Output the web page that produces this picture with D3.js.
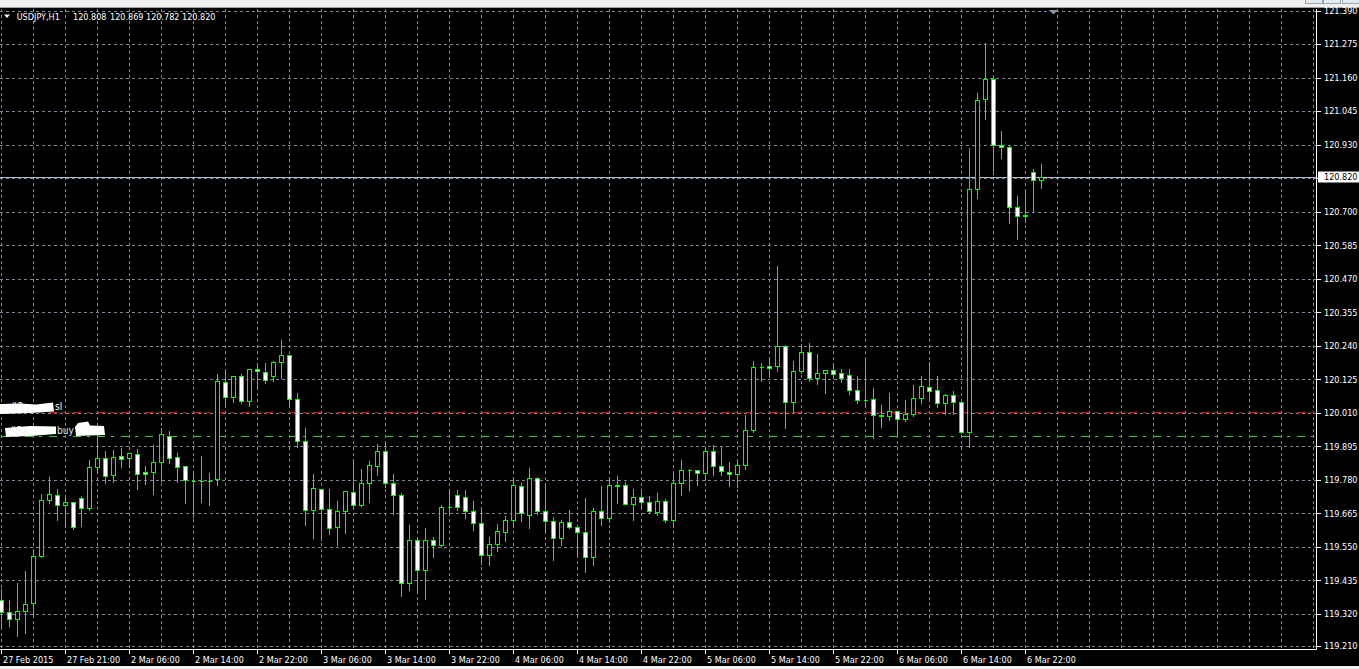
<!DOCTYPE html>
<html><head><meta charset="utf-8">
<script src="https://cdn.jsdelivr.net/npm/d3@7"></script>
<style>html,body{margin:0;padding:0;background:#000;overflow:hidden}svg{display:block}</style>
</head><body><svg id="c" width="1359" height="669"></svg>
<script>
// ---------- data ----------
const symbol = "USDJPY,H1";
const headerValues = ["120.808", "120.869", "120.782", "120.820"];
const timeLabels = ["27 Feb 2015","27 Feb 21:00","2 Mar 06:00","2 Mar 14:00","2 Mar 22:00","3 Mar 06:00","3 Mar 14:00","3 Mar 22:00","4 Mar 06:00","4 Mar 14:00","4 Mar 22:00","5 Mar 06:00","5 Mar 14:00","5 Mar 22:00","6 Mar 06:00","6 Mar 14:00","6 Mar 22:00"];
const timeLabelBars = [0,8,16,24,32,40,48,56,64,72,80,88,96,104,112,120,128];
const priceTicks = [121.390,121.275,121.160,121.045,120.930,120.815,120.700,120.585,120.470,120.355,120.240,120.125,120.010,119.895,119.780,119.665,119.550,119.435,119.320,119.210];
const priceTickLabels = ["121.390","121.275","121.160","121.045","120.930","120.815","120.700","120.585","120.470","120.355","120.240","120.125","120.010","119.895","119.780","119.665","119.550","119.435","119.320","119.210"];
const currentPrice = 120.820;
const slPrice = 120.013;
const buyPrice = 119.931;

const open = [119.368,119.326,119.304,119.331,119.357,119.518,119.710,119.727,119.693,119.703,
119.717,119.683,119.824,119.854,119.796,119.861,119.854,119.868,119.806,119.806,
119.841,119.932,119.858,119.827,119.778,119.776,119.775,119.782,120.115,120.064,
120.136,120.052,120.160,120.150,120.136,120.184,120.208,120.057,119.913,119.676,
119.748,119.679,119.617,119.672,119.738,119.693,119.769,119.827,119.878,119.769,
119.727,119.425,119.573,119.470,119.573,119.556,119.687,119.727,119.720,119.675,
119.631,119.521,119.559,119.603,119.641,119.758,119.660,119.785,119.672,119.638,
119.582,119.634,119.620,119.603,119.514,119.675,119.650,119.761,119.761,119.698,
119.723,119.706,119.671,119.709,119.641,119.769,119.814,119.814,119.803,119.880,
119.828,119.807,119.801,119.831,119.952,120.167,120.171,120.171,120.240,120.048,
120.153,120.219,120.130,120.147,120.158,120.147,120.140,120.089,120.056,120.058,
120.002,119.998,120.018,119.988,120.005,120.060,120.098,120.087,120.043,120.070,
120.049,119.943,120.777,121.086,121.155,120.928,120.921,120.715,120.687,120.836,
120.808];
const high = [119.408,119.370,119.431,119.471,119.542,119.734,119.794,119.751,119.727,119.705,
119.730,119.851,119.929,119.883,119.885,119.892,119.875,119.889,119.830,119.902,
119.963,119.952,119.875,119.830,119.807,119.865,119.806,120.146,120.160,120.140,
120.146,120.163,120.185,120.185,120.192,120.263,120.210,120.081,119.961,119.803,
119.750,119.751,119.710,119.742,119.851,119.821,119.849,119.906,119.912,119.803,
119.738,119.628,119.583,119.619,119.587,119.698,119.751,119.749,119.749,119.711,
119.691,119.586,119.631,119.659,119.792,119.774,119.826,119.792,119.771,119.655,
119.646,119.679,119.621,119.720,119.686,119.762,119.792,119.797,119.778,119.751,
119.754,119.728,119.737,119.717,119.811,119.853,119.821,119.818,119.892,119.904,
119.897,119.846,119.851,120.007,120.190,120.185,120.206,120.519,120.245,120.192,
120.250,120.255,120.216,120.160,120.185,120.164,120.164,120.141,120.196,120.099,
120.039,120.083,120.019,120.058,120.109,120.140,120.188,120.140,120.080,120.088,
120.054,120.923,121.111,121.283,121.170,120.981,120.932,120.758,120.777,120.852,
120.869];
const low = [119.277,119.280,119.246,119.256,119.313,119.515,119.700,119.644,119.620,119.611,
119.623,119.677,119.803,119.771,119.774,119.826,119.824,119.750,119.767,119.733,
119.778,119.837,119.774,119.702,119.654,119.706,119.695,119.761,120.032,120.049,
120.045,120.034,120.091,120.114,120.121,120.131,120.029,119.892,119.627,119.581,
119.574,119.596,119.558,119.599,119.680,119.690,119.706,119.798,119.757,119.663,
119.383,119.403,119.391,119.373,119.517,119.555,119.666,119.678,119.648,119.609,
119.491,119.488,119.537,119.571,119.620,119.640,119.616,119.664,119.600,119.506,
119.556,119.614,119.523,119.465,119.489,119.625,119.634,119.700,119.697,119.643,
119.682,119.666,119.659,119.636,119.620,119.727,119.747,119.762,119.781,119.798,
119.798,119.758,119.755,119.818,119.945,120.119,120.132,120.153,119.958,120.013,
120.147,120.119,120.110,120.077,120.130,120.115,120.075,120.044,120.029,119.923,
119.961,119.987,119.938,119.983,120.001,120.043,120.060,120.029,120.005,120.005,
119.942,119.894,120.749,121.020,120.831,120.886,120.663,120.607,120.665,120.703,
120.782];
const close = [119.328,119.304,119.329,119.353,119.518,119.710,119.731,119.693,119.703,119.618,
119.683,119.824,119.854,119.793,119.858,119.851,119.872,119.799,119.799,119.841,
119.936,119.854,119.824,119.779,119.775,119.775,119.776,120.119,120.064,120.136,
120.050,120.160,120.153,120.122,120.184,120.208,120.057,119.913,119.676,119.751,
119.679,119.614,119.672,119.741,119.693,119.769,119.830,119.878,119.769,119.727,
119.425,119.573,119.470,119.573,119.556,119.686,119.688,119.686,119.675,119.631,
119.521,119.559,119.604,119.641,119.761,119.665,119.785,119.672,119.638,119.582,
119.634,119.619,119.603,119.514,119.675,119.650,119.761,119.760,119.698,119.723,
119.706,119.675,119.709,119.641,119.771,119.814,119.815,119.803,119.880,119.828,
119.810,119.801,119.831,119.952,120.168,120.166,120.164,120.240,120.048,120.153,
120.219,120.130,120.147,120.158,120.144,120.130,120.088,120.055,120.055,120.003,
120.001,120.018,119.990,120.005,120.060,120.101,120.084,120.043,120.070,120.049,
119.943,120.777,121.083,121.155,120.928,120.921,120.718,120.687,120.688,120.808,
120.820];

// ---------- layout ----------
const W = 1359, H = 669;
const plotRight = 1316, plotTop = 9, plotBottom = 649;
const GRID = "#778899", CANDLE = "#00ff00";
const FONT = "'DejaVu Sans Condensed', 'Liberation Sans', Arial, sans-serif";

const x = d3.scaleLinear().domain([0, 164]).range([1.3, 1313.3]);
const y = d3.scaleLinear().domain([119.320, 121.275]).range([614, 44.3]);
const px = v => Math.round(x(v));
const py = v => Math.round(y(v)) + 0.5;

const svg = d3.select("#c");
svg.append("rect").attr("width", W).attr("height", H).attr("fill", "#000");
// window chrome strips
svg.append("rect").attr("x", 0).attr("y", 0).attr("width", W).attr("height", 7).attr("fill", "#f0f0f0");
svg.append("line").attr("x1", 0).attr("x2", W).attr("y1", 7.5).attr("y2", 7.5).attr("stroke", "#a0a0a0");
svg.append("rect").attr("x", 0).attr("y", 666).attr("width", W).attr("height", 3).attr("fill", "#f0f0f0");
[[1305,17],[1323,17],[1342,17]].forEach(([bx,bw]) =>
  svg.append("rect").attr("x", bx + 0.5).attr("y", -0.5).attr("width", bw).attr("height", 4)
    .attr("fill", "#e4eaf2").attr("stroke", "#9aa6b4"));

svg.append("defs").append("clipPath").attr("id", "plotClip")
  .append("rect").attr("x", 0).attr("y", plotTop).attr("width", plotRight).attr("height", plotBottom - plotTop);
const plot = svg.append("g").attr("clip-path", "url(#plotClip)").attr("shape-rendering", "crispEdges");

// vertical grid
const vGrid = d3.range(0, 165, 4);
plot.selectAll("line.vg").data(vGrid).join("line").attr("class", "vg")
  .attr("x1", d => px(d) + 0.5).attr("x2", d => px(d) + 0.5)
  .attr("y1", plotTop).attr("y2", plotBottom)
  .attr("stroke", GRID).attr("stroke-dasharray", "3,3");
// horizontal grid
plot.selectAll("line.hg").data(priceTicks).join("line").attr("class", "hg")
  .attr("x1", 0).attr("x2", plotRight)
  .attr("y1", d => py(d)).attr("y2", d => py(d))
  .attr("stroke", GRID).attr("stroke-dasharray", "3,3");

// current price line
plot.append("line").attr("x1", 0).attr("x2", plotRight)
  .attr("y1", py(currentPrice)).attr("y2", py(currentPrice)).attr("stroke", "#b4bcc4");

// order lines
plot.append("line").attr("x1", 0).attr("x2", plotRight)
  .attr("y1", py(slPrice)).attr("y2", py(slPrice))
  .attr("stroke", "#ff0000").attr("stroke-dasharray", "8,6,3,7").attr("stroke-dashoffset", 22.7);
plot.append("line").attr("x1", 0).attr("x2", plotRight)
  .attr("y1", py(buyPrice)).attr("y2", py(buyPrice))
  .attr("stroke", "#32cd32").attr("stroke-dasharray", "8,6,3,7").attr("stroke-dashoffset", 22.7);

// candles
const bars = d3.range(open.length).map(i => ({i, o: open[i], h: high[i], l: low[i], c: close[i]}));
const cg = plot.append("g");
cg.selectAll("line.wick").data(bars).join("line").attr("class", "wick")
  .attr("x1", d => px(d.i) + 0.5).attr("x2", d => px(d.i) + 0.5)
  .attr("y1", d => py(d.h)).attr("y2", d => py(d.l))
  .attr("stroke", CANDLE);
cg.selectAll("path.body").data(bars).join("path").attr("class", "body")
  .attr("d", d => {
    const x0 = px(d.i) - 1.5;
    const yt = py(Math.max(d.o, d.c)), yb = py(Math.min(d.o, d.c));
    return `M${x0},${yt}H${x0 + 4}V${yb}H${x0}Z`;
  })
  .attr("fill", d => d.c >= d.o ? "#000" : "#fff")
  .attr("stroke", CANDLE);

// order labels (redacted ticket numbers)
const lbl = svg.append("g").attr("font-family", FONT).attr("font-size", 10);
lbl.append("text").attr("x", 10).attr("y", 410).attr("fill", "#fff").text("#2");
lbl.append("text").attr("x", 55).attr("y", 410).attr("fill", "#fff").text("sl");
lbl.append("text").attr("x", 9).attr("y", 434).attr("fill", "#dde8ff").text("#2");
lbl.append("text").attr("x", 57).attr("y", 434).attr("fill", "#dde8ff").text("buy");
lbl.append("path").attr("fill", "#fff").attr("d", "M0,404 L20,403.5 L36,404.5 L53,402.5 L54,411.5 L30,413 L0,414 Z");
lbl.append("path").attr("fill", "#fff").attr("d", "M5,428 L30,426 L56,426.5 L56,434 L30,436 L6,437 Z");
lbl.append("path").attr("fill", "#fff").attr("d", "M75,427 L78,423 L88,421.5 L90,425.5 L104,426 L105,435 L76,436 Z");

// frame
svg.append("line").attr("x1", plotRight + 0.5).attr("x2", plotRight + 0.5).attr("y1", plotTop).attr("y2", plotBottom + 0.5).attr("stroke", "#fff");
svg.append("line").attr("x1", 0).attr("x2", plotRight + 0.5).attr("y1", plotBottom + 0.5).attr("y2", plotBottom + 0.5).attr("stroke", "#fff");

// right price axis
const ra = svg.append("g").attr("font-family", FONT).attr("font-size", 9).attr("fill", "#fff");
ra.selectAll("line").data(priceTicks).join("line")
  .attr("x1", plotRight + 1).attr("x2", plotRight + 5)
  .attr("y1", d => py(d)).attr("y2", d => py(d)).attr("stroke", "#fff").attr("shape-rendering", "crispEdges");
ra.selectAll("text").data(priceTicks).join("text")
  .attr("x", 1324).attr("y", d => y(d)).attr("dy", "0.35em")
  .text((d, k) => priceTickLabels[k]);
// current price box
ra.append("rect").attr("x", 1318).attr("y", py(currentPrice) - 6).attr("width", 41).attr("height", 11).attr("fill", "#fff");
ra.append("text").attr("x", 1324).attr("y", y(currentPrice)).attr("dy", "0.35em").attr("fill", "#000").text(d3.format(".3f")(currentPrice));

// bottom time axis
const ba = svg.append("g").attr("font-family", FONT).attr("font-size", 9).attr("fill", "#fff");
ba.selectAll("line").data(timeLabelBars).join("line")
  .attr("x1", d => px(d) + 0.5).attr("x2", d => px(d) + 0.5)
  .attr("y1", plotBottom + 1).attr("y2", plotBottom + 5).attr("stroke", "#fff").attr("shape-rendering", "crispEdges");
ba.selectAll("text").data(timeLabelBars).join("text")
  .attr("x", d => px(d) + 2).attr("y", 663)
  .text((d, k) => timeLabels[k]);

// chart shift marker
svg.append("path").attr("d", "M1049,10 L1058,10 L1053.5,14.5 Z").attr("fill", "#8796a6");

// header
const hd = svg.append("g").attr("font-family", FONT).attr("font-size", 9).attr("fill", "#fff");
hd.append("path").attr("d", "M4,14.5 L10,14.5 L7,18 Z").attr("fill", "#fff");
hd.append("text").attr("x", 16.7).attr("y", 20).text(symbol);
const hx = [73, 110, 146, 182];
headerValues.forEach((v, k) => hd.append("text").attr("x", hx[k]).attr("y", 20).text(v));
</script>
</body></html>
